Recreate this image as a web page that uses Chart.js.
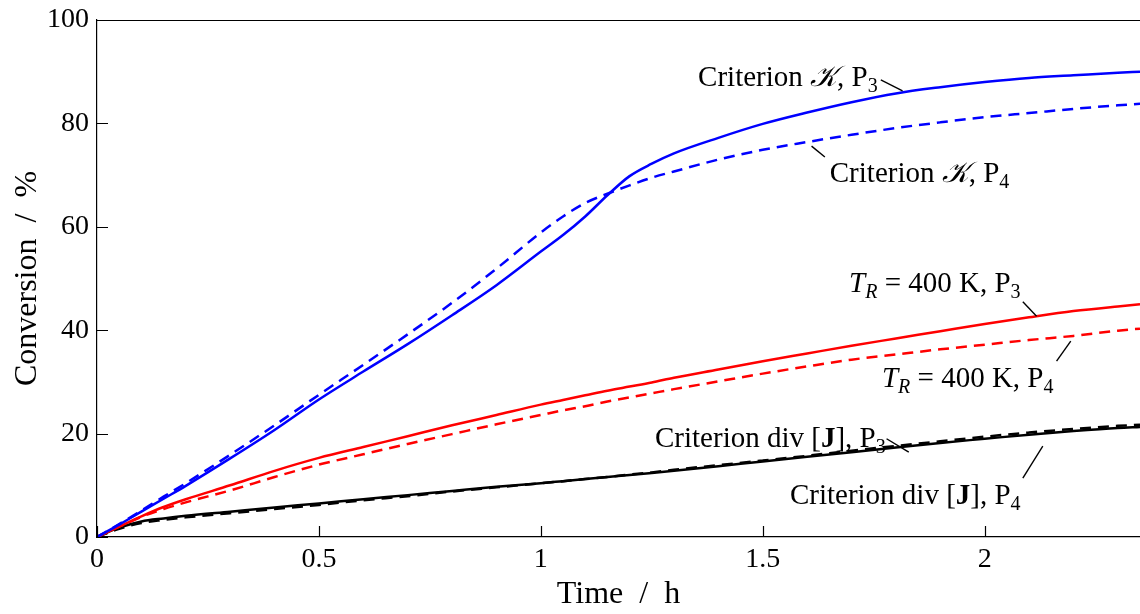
<!DOCTYPE html>
<html>
<head>
<meta charset="utf-8">
<script src="https://cdn.jsdelivr.net/npm/chart.js@4.4.0/dist/chart.umd.min.js"></script>
<style>
  body { margin: 0; background: #fff; }
  #wrap { width: 1140px; height: 614px; }
</style>
</head>
<body>
<div id="wrap"><canvas id="conv"></canvas></div>
<script>
// Time in hours
const timeH = [0, 0.05, 0.1, 0.15, 0.2, 0.3, 0.4, 0.5, 0.6, 0.7, 0.8, 0.9, 1.0, 1.05, 1.1, 1.15, 1.2, 1.25, 1.3, 1.4, 1.5, 1.6, 1.7, 1.8, 1.9, 2.0, 2.1, 2.2, 2.3, 2.35];

// Conversion in %
const critK_P3 = [0, 2.4, 4.9, 7.4, 9.9, 15.2, 20.7, 26.6, 32.0, 37.3, 42.9, 48.7, 55.2, 58.4, 62.0, 66.1, 69.8, 72.2, 74.2, 77.2, 79.9, 82.1, 84.1, 85.8, 87.0, 88.0, 88.8, 89.3, 89.8, 90.0];
const critK_P4 = [0, 2.5, 5.1, 7.8, 10.4, 15.9, 21.6, 27.5, 33.3, 39.2, 45.3, 51.9, 58.9, 62.0, 64.6, 66.4, 68.0, 69.5, 70.7, 73.0, 74.9, 76.4, 77.8, 79.1, 80.2, 81.2, 82.0, 82.8, 83.5, 83.8];
const tr400_P3 = [0, 2.0, 4.0, 5.8, 7.3, 10.0, 12.8, 15.3, 17.4, 19.5, 21.6, 23.6, 25.6, 26.5, 27.4, 28.3, 29.1, 29.9, 30.8, 32.4, 34.0, 35.5, 37.0, 38.4, 39.8, 41.2, 42.5, 43.7, 44.6, 45.0];
const tr400_P4 = [0, 2.0, 3.9, 5.4, 6.7, 9.0, 11.6, 14.0, 16.0, 18.0, 19.9, 21.8, 23.6, 24.5, 25.3, 26.2, 27.0, 27.8, 28.6, 30.1, 31.6, 33.0, 34.3, 35.3, 36.3, 37.2, 38.1, 38.9, 39.9, 40.3];
const divJ_P3 = [0, 1.8, 3.0, 3.6, 4.1, 4.9, 5.7, 6.5, 7.3, 8.1, 8.9, 9.7, 10.4, 10.8, 11.2, 11.6, 12.0, 12.4, 12.8, 13.7, 14.6, 15.5, 16.4, 17.3, 18.2, 19.0, 19.8, 20.5, 21.1, 21.3];
const divJ_P4 = [0, 1.6, 2.7, 3.3, 3.8, 4.6, 5.4, 6.2, 7.1, 7.9, 8.8, 9.6, 10.4, 10.8, 11.2, 11.6, 12.1, 12.5, 13.0, 13.9, 14.8, 15.7, 16.7, 17.6, 18.5, 19.4, 20.2, 20.9, 21.5, 21.7];

const xTicks = [0, 0.5, 1, 1.5, 2];
const yTicks = [0, 20, 40, 60, 80, 100];

const SERIF = '"Liberation Serif", "DejaVu Serif", serif';
const F = (size, style) => (style ? style + ' ' : '') + size + 'px ' + SERIF;

function pts(ys) {
    return timeH.map((t, i) => ({ x: t, y: ys[i] }));
}

function line(data, color, dashed) {
    return {
        data: pts(data),
        borderColor: color,
        borderWidth: 2.5,
        borderDash: dashed ? [11, 7] : [],
        pointRadius: 0,
        fill: false,
        cubicInterpolationMode: 'monotone'
    };
}

// In-plot labels: text runs, anchor (data units), leader line (data units)
const LBL = F(29);
const SUB = F(20);
const labels = [
    { runs: [{ t: 'Criterion ' }, { t: '\u{1D4A6}', f: F(29, 'italic') }, { t: ', P' }, { t: '3', sub: true }],
      at: [1.759, 87.2], align: 'right', lead: [[1.766, 88.4], [1.815, 86.3]] },
    { runs: [{ t: 'Criterion ' }, { t: '\u{1D4A6}', f: F(29, 'italic') }, { t: ', P' }, { t: '4', sub: true }],
      at: [1.651, 68.7], align: 'left', lead: [[1.610, 75.6], [1.640, 73.5]] },
    { runs: [{ t: 'T', f: F(29, 'italic') }, { t: 'R', f: F(20, 'italic'), sub: true }, { t: ' = 400 K, P' }, { t: '3', sub: true }],
      at: [2.081, 47.4], align: 'right', lead: [[2.086, 45.5], [2.117, 42.7]] },
    { runs: [{ t: 'T', f: F(29, 'italic') }, { t: 'R', f: F(20, 'italic'), sub: true }, { t: ' = 400 K, P' }, { t: '4', sub: true }],
      at: [2.155, 29.0], align: 'right', lead: [[2.162, 34.0], [2.194, 37.9]] },
    { runs: [{ t: 'Criterion div [' }, { t: 'J', f: F(29, 'bold') }, { t: '], P' }, { t: '3', sub: true }],
      at: [1.777, 17.4], align: 'right', lead: [[1.779, 19.0], [1.829, 16.4]] },
    { runs: [{ t: 'Criterion div [' }, { t: 'J', f: F(29, 'bold') }, { t: '], P' }, { t: '4', sub: true }],
      at: [2.081, 6.4], align: 'right', lead: [[2.086, 11.4], [2.131, 17.6]] }
];

const framePlugin = {
    id: 'frame',
    afterDraw(chart) {
        const { ctx, chartArea: a, scales: { x, y } } = chart;
        ctx.save();
        ctx.strokeStyle = '#000';
        ctx.lineWidth = 1.2;
        ctx.beginPath();
        xTicks.forEach(v => {
            const px = Math.round(x.getPixelForValue(v)) + 0.5;
            ctx.moveTo(px, a.bottom);
            ctx.lineTo(px, a.bottom - 11);
        });
        yTicks.forEach(v => {
            const py = Math.round(y.getPixelForValue(v)) + 0.5;
            ctx.moveTo(a.left, py);
            ctx.lineTo(a.left + 11, py);
        });
        ctx.moveTo(a.left, a.top + 0.5);
        ctx.lineTo(a.right, a.top + 0.5);
        ctx.stroke();

        // labels and leader lines
        ctx.fillStyle = '#000';
        ctx.textBaseline = 'alphabetic';
        ctx.textAlign = 'left';
        labels.forEach(l => {
            const px = x.getPixelForValue(l.at[0]);
            const py = y.getPixelForValue(l.at[1]);
            let w = 0;
            l.runs.forEach(r => {
                ctx.font = r.f || (r.sub ? SUB : LBL);
                w += ctx.measureText(r.t).width;
            });
            let cx = l.align === 'right' ? px - w : px;
            l.runs.forEach(r => {
                ctx.font = r.f || (r.sub ? SUB : LBL);
                ctx.fillText(r.t, cx, py + (r.sub ? 6 : 0));
                cx += ctx.measureText(r.t).width;
            });
            ctx.beginPath();
            ctx.lineWidth = 1.4;
            ctx.moveTo(x.getPixelForValue(l.lead[0][0]), y.getPixelForValue(l.lead[0][1]));
            ctx.lineTo(x.getPixelForValue(l.lead[1][0]), y.getPixelForValue(l.lead[1][1]));
            ctx.stroke();
        });
        ctx.restore();
    }
};

new Chart(document.getElementById('conv'), {
    type: 'line',
    data: {
        datasets: [
            line(critK_P3, 'rgb(0,0,255)', false),
            line(critK_P4, 'rgb(0,0,255)', true),
            line(tr400_P3, 'rgb(255,0,0)', false),
            line(tr400_P4, 'rgb(255,0,0)', true),
            line(divJ_P4, '#000', true),
            line(divJ_P3, '#000', false)
        ]
    },
    options: {
        responsive: true,
        maintainAspectRatio: false,
        animation: false,
        layout: { padding: { top: 20, right: 0, left: 0, bottom: 0 } },
        plugins: { legend: { display: false }, tooltip: { enabled: false } },
        scales: {
            x: {
                type: 'linear',
                min: 0,
                max: 2.35,
                afterFit: s => { s.height = 77; },
                afterBuildTicks: s => { s.ticks = xTicks.map(v => ({ value: v })); },
                grid: { drawOnChartArea: false, drawTicks: false },
                border: { color: '#000', width: 1.2 },
                ticks: { color: '#000', padding: 6, font: { family: SERIF, size: 28 }, maxRotation: 0,
                         callback: v => String(v) },
                title: { display: true, text: 'Time\u2002/\u2002h', color: '#000',
                         font: { family: SERIF, size: 32 }, padding: { top: 0, bottom: 0 } }
            },
            y: {
                type: 'linear',
                min: 0,
                max: 100,
                afterFit: s => { s.width = 97; },
                afterBuildTicks: s => { s.ticks = yTicks.map(v => ({ value: v })); },
                grid: { drawOnChartArea: false, drawTicks: false },
                border: { color: '#000', width: 1.2 },
                ticks: { color: '#000', padding: 8, font: { family: SERIF, size: 28, lineHeight: 0.5 } },
                title: { display: true, text: 'Conversion\u2002/\u2002%', color: '#000',
                         font: { family: SERIF, size: 32 }, padding: { top: 8, bottom: 0 } }
            }
        }
    },
    plugins: [framePlugin]
});
</script>
</body>
</html>
